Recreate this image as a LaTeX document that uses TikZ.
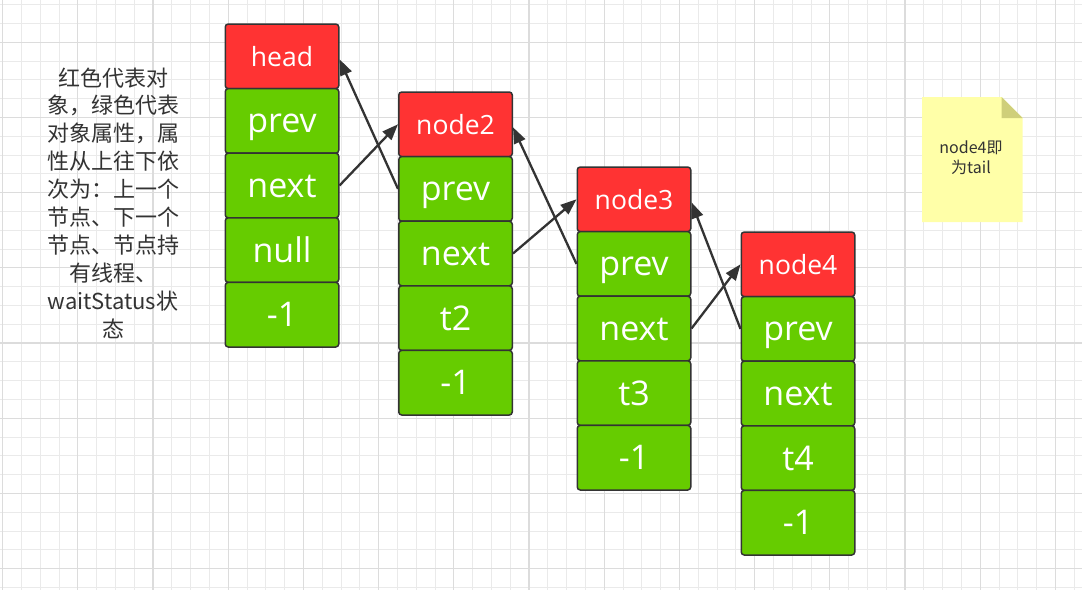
\documentclass[tikz,border=0pt]{standalone}
\usepackage{fontspec}
\setmainfont{Open Sans}
\newfontfamily\cjk{Noto Sans CJK SC}
\usetikzlibrary{arrows.meta}
\definecolor{cellred}{HTML}{FF3333}
\definecolor{cellgreen}{HTML}{66CC00}
\definecolor{edgegray}{HTML}{333333}
\definecolor{txtgray}{HTML}{333333}
\definecolor{gridminor}{HTML}{EAEAEA}
\definecolor{gridmajor}{HTML}{DCDCDC}
\definecolor{notefill}{HTML}{FFFFA8}
\definecolor{foldfill}{HTML}{CFCF7A}
\tikzset{
  cellbase/.style={draw=edgegray, line width=1.5pt, rounded corners=3pt,
    minimum width=113.5pt, minimum height=64.6pt, inner sep=0pt, text=white},
  namecell/.style={cellbase, fill=cellred, font=\fontsize{26.5}{30}\selectfont,
    text height=24pt, text depth=4pt},
  fieldcell/.style={cellbase, fill=cellgreen, font=\fontsize{34}{38}\selectfont,
    text height=29pt, text depth=5pt},
  conn/.style={draw=edgegray, line width=2.3pt, -{Triangle[length=16pt,width=12pt]}},
  minorline/.style={draw=gridminor, line width=1pt},
  majorline/.style={draw=gridmajor, line width=1.1pt},
}
\begin{document}
\begin{tikzpicture}[x=1pt,y=-1pt]
\fill[white] (0,0) rectangle (1082,590);
\useasboundingbox (0,0) rectangle (1082,590);
% grid
\foreach \i in {0,...,57} {
  \pgfmathsetmacro\gx{2.6+18.8*\i}
  \draw[minorline] (\gx,0) -- (\gx,590);
}
\foreach \i in {0,...,31} {
  \pgfmathsetmacro\gy{4.6+18.8*\i}
  \draw[minorline] (0,\gy) -- (1082,\gy);
}
\foreach \i in {0,...,14} {
  \pgfmathsetmacro\gx{2.6+75.2*\i}
  \draw[majorline] (\gx,0) -- (\gx,590);
}
\foreach \i in {0,...,7} {
  \pgfmathsetmacro\gy{42.2+75.2*\i}
  \draw[majorline] (0,\gy) -- (1082,\gy);
}
% columns
\foreach \k/\cx/\ty/\ttl/\tc in {h/282/24/head/null, n2/455.5/92/node2/t2, n3/634/167/node3/t3, n4/798/232/node4/t4} {
  \pgfmathsetmacro\ya{\ty+32.3}
  \pgfmathsetmacro\yb{\ty+32.3+64.6}
  \pgfmathsetmacro\yc{\ty+32.3+2*64.6}
  \pgfmathsetmacro\yd{\ty+32.3+3*64.6}
  \pgfmathsetmacro\ye{\ty+32.3+4*64.6}
  \node[namecell]  (\k-name) at (\cx,\ya) {\ttl};
  \node[fieldcell] (\k-prev) at (\cx,\yb) {prev};
  \node[fieldcell] (\k-next) at (\cx,\yc) {next};
  \node[fieldcell] (\k-thr)  at (\cx,\yd) {\tc};
  \node[fieldcell] (\k-ws)   at (\cx,\ye) {-1};
}
% connectors
\draw[conn] (h-next.east) -- (n2-name.west);
\draw[conn] (n2-prev.west) -- ([yshift=-3pt]h-name.east);
\draw[conn] (n2-next.east) -- (n3-name.west);
\draw[conn] (n3-prev.west) -- ([yshift=-3pt]n2-name.east);
\draw[conn] (n3-next.east) -- (n4-name.west);
\draw[conn] (n4-prev.west) -- ([yshift=-3pt]n3-name.east);
% description
\node[text=txtgray, align=center, inner sep=0pt,
      font=\cjk\fontsize{22}{27.9}\selectfont] (desc) at (113,203)
  {红色代表对\\象，绿色代表\\对象属性，属\\性从上往下依\\次为：上一个\\节点、下一个\\节点、节点持\\有线程、\\waitStatus状\\态};
% note
\fill[notefill] (922,97) -- (1001.5,97) -- (1022.5,118) -- (1022.5,222) -- (922,222) -- cycle;
\fill[foldfill] (1001.5,97) -- (1022.5,118) -- (1001.5,118) -- cycle;
\node[text=txtgray, align=center, inner sep=0pt,
      font=\cjk\fontsize{16}{20}\selectfont] (note) at (971,158)
  {node4即\\为tail};
\end{tikzpicture}
\end{document}
